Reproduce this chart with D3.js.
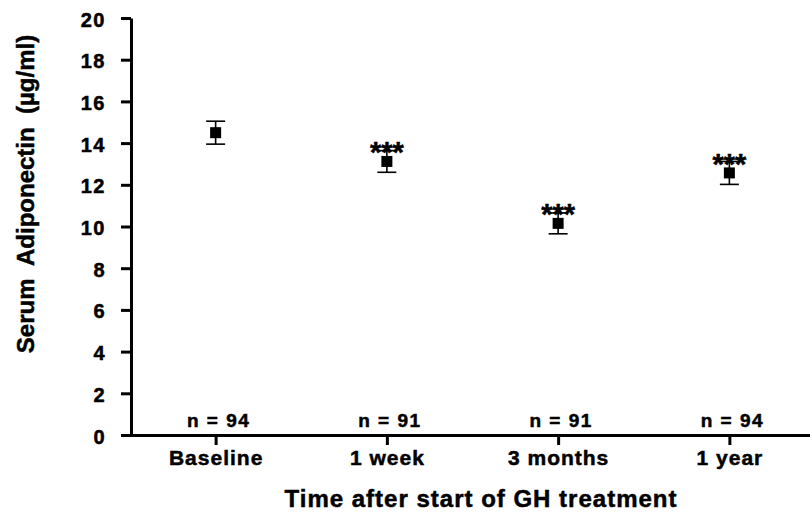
<!DOCTYPE html>
<html>
<head>
<meta charset="utf-8">
<script src="https://cdn.jsdelivr.net/npm/d3@7"></script>
<style>
  body { margin: 0; background: #fff; }
  svg text { font-family: "Liberation Sans", Arial, sans-serif; font-weight: bold; fill: #000; stroke: #000; stroke-width: 0.5px; }
</style>
</head>
<body>
<svg id="chart" width="810" height="514"></svg>
<script>
// values
const categories = ["Baseline", "1 week", "3 months", "1 year"];
const means = [14.5, 13.12, 10.15, 12.57];
const errors = [0.55, 0.52, 0.5, 0.55];
const nLabels = ["n = 94", "n = 91", "n = 91", "n = 94"];
const stars = ["", "***", "***", "***"];
const yTicks = [0, 2, 4, 6, 8, 10, 12, 14, 16, 18, 20];

const svg = d3.select("#chart");
const data = categories.map((c, i) => ({ cat: c, mean: means[i], err: errors[i], n: nLabels[i], star: stars[i] }));

const x = d3.scalePoint()
  .domain(categories)
  .range([130, 815])
  .padding(0.5);

const y = d3.scaleLinear()
  .domain([0, 20])
  .range([435, 18]);

// y axis
const yAxis = svg.append("g")
  .attr("transform", `translate(${x.range()[0] + 1},0)`)
  .call(d3.axisLeft(y).tickValues(yTicks).tickSize(10).tickSizeOuter(0).tickPadding(15));
yAxis.select(".domain").attr("stroke-width", 3);
yAxis.selectAll(".tick line").attr("stroke-width", 3);
yAxis.selectAll("text").style("font-size", "20px").attr("letter-spacing", "1.5px").attr("dy", "0.4em");

// x axis
const xAxis = svg.append("g")
  .attr("transform", `translate(0,${y(0)})`)
  .call(d3.axisBottom(x).tickSize(10).tickSizeOuter(0).tickPadding(5));
xAxis.select(".domain").attr("stroke-width", 3);
xAxis.selectAll(".tick line").attr("stroke-width", 3);
xAxis.selectAll("text").style("font-size", "21px").attr("letter-spacing", "1px");

// error bars
const eb = svg.append("g").attr("stroke", "#000").attr("stroke-width", 1.6);
eb.selectAll(".stem")
  .data(data)
  .enter().append("line")
  .attr("x1", d => x(d.cat)).attr("x2", d => x(d.cat))
  .attr("y1", d => y(d.mean - d.err)).attr("y2", d => y(d.mean + d.err));
eb.selectAll(".capLo")
  .data(data)
  .enter().append("line")
  .attr("x1", d => x(d.cat) - 9.5).attr("x2", d => x(d.cat) + 9.5)
  .attr("y1", d => y(d.mean - d.err)).attr("y2", d => y(d.mean - d.err));
eb.selectAll(".capHi")
  .data(data)
  .enter().append("line")
  .attr("x1", d => x(d.cat) - 9.5).attr("x2", d => x(d.cat) + 9.5)
  .attr("y1", d => y(d.mean + d.err)).attr("y2", d => y(d.mean + d.err));

// markers
svg.selectAll(".pt")
  .data(data)
  .enter().append("rect")
  .attr("x", d => x(d.cat) - 5.5)
  .attr("y", d => y(d.mean) - 5.5)
  .attr("width", 11)
  .attr("height", 11)
  .attr("fill", "#000");

// significance stars
svg.selectAll(".star")
  .data(data)
  .enter().append("text")
  .attr("x", d => x(d.cat))
  .attr("y", d => y(d.mean) + 1)
  .attr("text-anchor", "middle")
  .style("font-size", "29px")
  .text(d => d.star);

// n labels
svg.selectAll(".nlab")
  .data(data)
  .enter().append("text")
  .attr("x", d => x(d.cat) + 3)
  .attr("y", y(0) - 8)
  .attr("text-anchor", "middle")
  .style("font-size", "19px")
  .attr("letter-spacing", "1.5px")
  .text(d => d.n);

// axis titles
svg.append("text")
  .attr("x", 481)
  .attr("y", 507)
  .attr("text-anchor", "middle")
  .style("font-size", "24px")
  .attr("letter-spacing", "1px")
  .text("Time after start of GH treatment");

svg.append("text")
  .attr("transform", "translate(34,194) rotate(-90)")
  .attr("text-anchor", "middle")
  .style("font-size", "24px")
  .style("white-space", "pre")
  .text("Serum  Adiponectin  (µg/ml)");
</script>
</body>
</html>
